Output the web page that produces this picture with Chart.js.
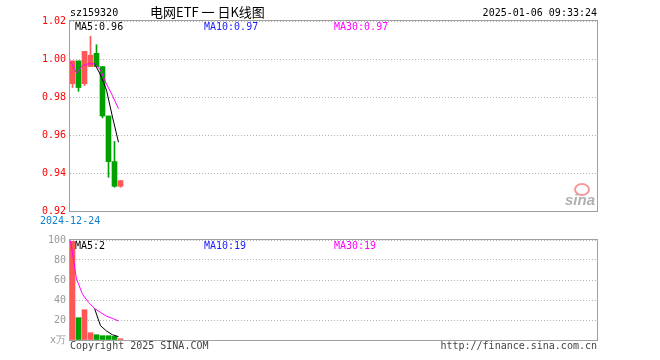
<!DOCTYPE html>
<html>
<head>
<meta charset="utf-8">
<script src="https://cdn.jsdelivr.net/npm/chart.js@4/dist/chart.umd.min.js"></script>
<style>
  body { margin: 0; background: #fff; }
  #wrap { position: relative; width: 660px; height: 360px; overflow: hidden; }
  canvas { position: absolute; left: 0; }
  .txt { position: absolute; font: 10px "DejaVu Sans Mono", monospace; line-height: 10px; white-space: pre; }
</style>
</head>
<body>
<div id="wrap">
  <canvas id="graficoK" width="660" height="230" style="top:0"></canvas>
  <canvas id="graficoVolume" width="660" height="130" style="top:230px"></canvas>

  <div class="txt" style="left:70px;top:8px;color:#000">sz159320</div>
  <div class="txt" style="left:150px;top:4px;font:13px 'Noto Sans CJK SC';line-height:15px;color:#000">电网ETF 一 日K线图</div>
  <div class="txt" style="right:63px;top:8px;color:#000">2025-01-06 09:33:24</div>

  <div class="txt" style="left:75px;top:22px;color:#000">MA5:0.96</div>
  <div class="txt" style="left:204px;top:22px;color:#1a1aff">MA10:0.97</div>
  <div class="txt" style="left:334px;top:22px;color:#ff00ff">MA30:0.97</div>

  <div class="txt" style="left:40px;top:216px;color:#1080d0">2024-12-24</div>

  <div class="txt" style="left:75px;top:241px;color:#000">MA5:2</div>
  <div class="txt" style="left:204px;top:241px;color:#1a1aff">MA10:19</div>
  <div class="txt" style="left:334px;top:241px;color:#ff00ff">MA30:19</div>

  <div class="txt" style="left:70px;top:341px;color:#444">Copyright 2025 SINA.COM</div>
  <div class="txt" style="right:63px;top:341px;color:#444">http://finance.sina.com.cn</div>

  <div style="position:absolute;left:574px;top:183px;width:12px;height:9px;border-radius:50%;border:2px solid #f08080;opacity:0.8"></div>
  <div class="txt" style="left:565px;top:192px;font:italic bold 15px 'Liberation Sans';line-height:15px;color:#b0b0b0">sina</div>
</div>

<script>
// dados do gráfico diário (9 pregões)
const abertura = [0.987, 0.999, 0.987, 0.996, 1.003, 0.996, 0.970, 0.946, 0.933];
const fechamento = [0.999, 0.985, 1.004, 1.002, 0.996, 0.970, 0.946, 0.933, 0.936];
const maximas = [0.999, 0.999, 1.004, 1.012, 1.0075, 0.996, 0.970, 0.9566, 0.936];
const minimas = [0.985, 0.983, 0.986, 0.996, 0.996, 0.969, 0.9377, 0.9325, 0.9325];
const ma5Preco = [null, null, null, null, 0.9977, 0.9916, 0.9836, 0.9694, 0.9562];
const ma30Preco = [0.9987, 0.9926, 0.9965, 0.9975, 0.9974, 0.9943, 0.9868, 0.9807, 0.9738];

const volumes = [98.6, 22.3, 30.3, 7.3, 5.3, 4.3, 4.3, 3.7, 1.3];
const ma5Volume = [null, null, null, null, 31.6, 14.3, 9, 5.2, 3.4];
const ma30Volume = [99.3, 61, 45.8, 37.6, 31.6, 27.6, 23.8, 21.6, 19];

const ticksPreco = [0.92, 0.94, 0.96, 0.98, 1.00, 1.02];
const ticksVolume = [0, 20, 40, 60, 80, 100];
const totalSlots = 88; // largura do eixo em pregões

const VERMELHO = '#ff5656';
const VERDE = '#00a000';
const FONTE = { family: 'DejaVu Sans Mono', size: 10 };

const corDoDia = abertura.map((a, i) => fechamento[i] >= a ? VERMELHO : VERDE);
const xBarra = (i) => i + 2.5 / 6;
const xLinha = (i) => i + 0.5 / 6;
const pontos = (arr) => arr.map((v, i) => ({ x: xLinha(i), y: v })).filter(p => p.y !== null);

const moldura = {
    id: 'moldura',
    beforeDatasetsDraw(chart) {
        const { ctx, chartArea: a } = chart;
        ctx.save();
        ctx.strokeStyle = '#a0a0a0';
        ctx.lineWidth = 1;
        ctx.strokeRect(a.left - 0.5, a.top - 0.5, a.right - a.left, a.bottom - a.top + 1);
        ctx.restore();
    }
};

const eixoY = (min, max, ticks, cor, rotulo) => ({
    min: min,
    max: max,
    afterFit: (s) => { s.width = 70; },
    afterBuildTicks: (s) => { s.ticks = ticks.map(v => ({ value: v })); },
    ticks: { color: cor, font: FONTE, padding: 4, callback: rotulo },
    grid: { color: '#b4b4b4', drawTicks: false },
    border: { display: false, dash: [1, 2] }
});

const eixoX = { type: 'linear', min: 0, max: totalSlots, offset: false, display: false };

const linha = (dados, cor) => ({
    type: 'line',
    data: pontos(dados),
    borderColor: cor,
    borderWidth: 1,
    pointRadius: 0,
    tension: 0,
    order: 0
});

Chart.defaults.animation = false;

// Gráfico de velas
new Chart(document.getElementById('graficoK'), {
    type: 'bar',
    data: {
        datasets: [
            linha(ma30Preco, '#ff00ff'),
            linha(ma5Preco, '#000000'),
            {
                data: abertura.map((a, i) => ({ x: xBarra(i), y: [minimas[i], maximas[i]] })),
                backgroundColor: corDoDia,
                barThickness: 1,
                grouped: false,
                order: 2
            },
            {
                data: abertura.map((a, i) => ({ x: xBarra(i), y: [a, fechamento[i]] })),
                backgroundColor: corDoDia,
                barThickness: 5,
                grouped: false,
                order: 1
            }
        ]
    },
    options: {
        responsive: false,
        layout: { padding: { left: 0, right: 62, top: 21, bottom: 19 } },
        plugins: { legend: { display: false }, tooltip: { enabled: false } },
        scales: {
            x: eixoX,
            y: eixoY(0.92, 1.02, ticksPreco, '#ff0000', (v) => v.toFixed(2))
        }
    },
    plugins: [moldura]
});

// Gráfico de volume
new Chart(document.getElementById('graficoVolume'), {
    type: 'bar',
    data: {
        datasets: [
            linha(ma30Volume, '#ff00ff'),
            linha(ma5Volume, '#000000'),
            {
                data: volumes.map((v, i) => ({ x: xBarra(i), y: v })),
                backgroundColor: corDoDia,
                barThickness: 5,
                grouped: false,
                order: 1
            }
        ]
    },
    options: {
        responsive: false,
        layout: { padding: { left: 0, right: 62, top: 10, bottom: 20 } },
        plugins: { legend: { display: false }, tooltip: { enabled: false } },
        scales: {
            x: eixoX,
            y: eixoY(0, 100, ticksVolume, '#999999', (v) => v === 0 ? 'x万' : String(v))
        }
    },
    plugins: [moldura]
});
</script>
</body>
</html>
